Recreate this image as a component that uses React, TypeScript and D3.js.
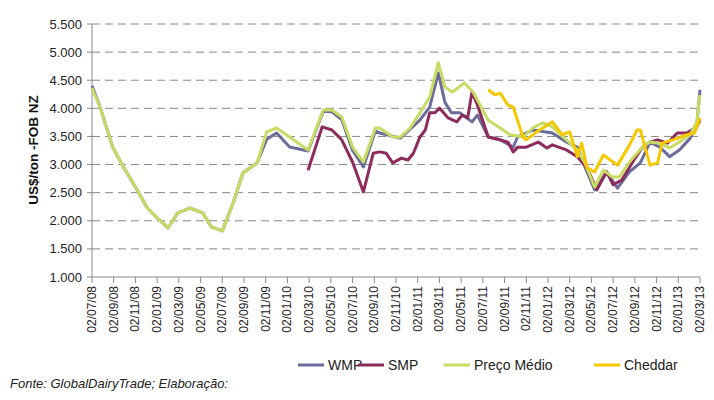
import * as React from 'react';
import * as d3 from 'd3';

// x = months since 02/07/08, y = US$/ton
const xLabels = ['02/07/08', '02/09/08', '02/11/08', '02/01/09', '02/03/09', '02/05/09', '02/07/09', '02/09/09', '02/11/09', '02/01/10', '02/03/10', '02/05/10', '02/07/10', '02/09/10', '02/11/10', '02/01/11', '02/03/11', '02/05/11', '02/07/11', '02/09/11', '02/11/11', '02/01/12', '02/03/12', '02/05/12', '02/07/12', '02/09/12', '02/11/12', '02/01/13', '02/03/13'];
const yTicks = [1000, 1500, 2000, 2500, 3000, 3500, 4000, 4500, 5000, 5500];

const wmp: [number, number][] = [
  [0, 4400], [0.74, 4024], [1.9, 3312], [2.9, 2956], [4, 2600], [5.1, 2227], [6, 2050], [7, 1872], [7.9, 2140], [9, 2227], [10.2, 2140], [11, 1890], [12, 1820], [13, 2316], [13.9, 2850], [15.2, 3028], [16.1, 3450], [17, 3560], [18.2, 3312], [19.9, 3240], [21.3, 3950], [22.1, 3940], [23, 3800], [24, 3250], [25, 2956], [26.1, 3600], [26.5, 3560], [28.4, 3470], [30.2, 3790], [31.1, 4020], [31.9, 4630], [32.5, 4110], [33.1, 3920], [33.9, 3920], [35, 3760], [35.5, 3880], [36.5, 3490], [37.6, 3440], [38.8, 3312], [39.2, 3490], [40.6, 3615], [42.4, 3560], [43.7, 3400], [44.7, 3310], [45.4, 2960], [46.3, 2550], [47.4, 2870], [48.4, 2580], [49.5, 2870], [50.5, 3030], [51.4, 3400], [52.3, 3310], [53.2, 3140], [54.1, 3260], [55.1, 3470], [55.7, 3700], [56, 4330],
];
const smp: [number, number][] = [
  [19.9, 2900], [21.2, 3670], [22.1, 3615], [23, 3440], [24, 3045], [25, 2513], [25.9, 3200], [26.5, 3225], [27.1, 3200], [27.7, 3030], [28.5, 3115], [29.1, 3080], [29.6, 3200], [30.2, 3490], [30.7, 3615], [31.1, 3920], [31.6, 3920], [32, 4005], [32.8, 3830], [33.6, 3760], [34.1, 3880], [34.6, 3830], [35, 4290], [35.5, 4060], [36.5, 3490], [37.6, 3440], [38.3, 3400], [38.8, 3225], [39.2, 3310], [40, 3310], [41.1, 3400], [41.9, 3295], [42.4, 3350], [43.7, 3260], [44.7, 3140], [45.6, 2940], [46.5, 2550], [47.4, 2870], [48, 2640], [48.8, 2725], [49.8, 3045], [50.7, 3310], [51.4, 3400], [52.1, 3440], [53, 3380], [53.9, 3560], [54.8, 3560], [55.7, 3670], [56, 3790],
];
const medio: [number, number][] = [
  [0, 4362], [0.74, 4024], [1.9, 3312], [2.9, 2956], [4, 2600], [5.1, 2227], [6, 2050], [7, 1872], [7.9, 2140], [9, 2227], [10.2, 2140], [11, 1890], [12, 1820], [13, 2316], [13.9, 2850], [15.2, 3028], [16.1, 3580], [17, 3650], [18.2, 3490], [19.9, 3260], [21.3, 3970], [22.1, 3970], [23, 3845], [24, 3312], [25, 3045], [26.1, 3650], [26.5, 3650], [27.7, 3490], [28.4, 3490], [29.3, 3650], [30.2, 3920], [31.1, 4200], [31.9, 4810], [32.5, 4380], [33.2, 4290], [34.3, 4450], [35.1, 4290], [36.5, 3790], [37.6, 3650], [38.5, 3530], [39.7, 3490], [40.6, 3650], [41.5, 3740], [42.4, 3670], [43.4, 3490], [44.7, 3260], [45.4, 3030], [46.3, 2600], [47.1, 2900], [47.9, 2780], [48.6, 2780], [49.5, 3045], [50.7, 3312], [51.4, 3400], [52.3, 3380], [53.2, 3295], [54.1, 3400], [55.1, 3530], [55.7, 3760], [56, 4240],
];
const cheddar: [number, number][] = [
  [36.5, 4330], [37.1, 4240], [37.6, 4270], [38.3, 4060], [38.8, 4020], [39.7, 3490], [40, 3440], [40.8, 3560], [42.4, 3760], [43.3, 3530], [44, 3580], [44.7, 3140], [45.1, 3380], [45.6, 2940], [46.3, 2870], [47.1, 3170], [48.4, 2990], [49.4, 3310], [50.2, 3615], [50.5, 3615], [51.4, 2990], [52.1, 3030], [52.5, 3380], [53.5, 3440], [54.8, 3530], [55.5, 3560], [56, 3830],
];

const series = [
  { name: 'WMP', data: wmp, color: '#6a6c9c' },
  { name: 'SMP', data: smp, color: '#8c2b5c' },
  { name: 'Preço Médio', data: medio, color: '#c8dc64' },
  { name: 'Cheddar', data: cheddar, color: '#f5c800' },
];
const legendX = [298, 358, 444, 594];

export default function App() {
  const width = 714;
  const height = 400;
  const x = d3.scaleLinear().domain([0, 56]).range([92, 700]);
  const y = d3.scaleLinear().domain([1000, 5500]).range([277, 24]);
  const line = d3.line<[number, number]>().x(d => x(d[0])).y(d => y(d[1]));
  const font = 'Arial, "Liberation Sans", sans-serif';

  return (
    <svg width={width} height={height} style={{ position: 'absolute', left: 0, top: 0, fontFamily: font }}>
      <rect width={width} height={height} fill="#fff" />
      {yTicks.map(t => (
        <g key={t}>
          {t > 1000 && <line x1={92} x2={700} y1={y(t)} y2={y(t)} stroke="#888" strokeDasharray="8,5" />}
          <line x1={87} x2={92} y1={y(t)} y2={y(t)} stroke="#888" />
          <text x={82} y={y(t) + 4.5} textAnchor="end" fontSize={13} fill="#222">{d3.format(',')(t).replace(',', '.')}</text>
        </g>
      ))}
      <line x1={92} x2={92} y1={24} y2={277} stroke="#888" />
      <line x1={92} x2={700} y1={277} y2={277} stroke="#888" />
      {xLabels.map((l, i) => (
        <g key={l}>
          <line x1={x(i * 2)} x2={x(i * 2)} y1={277} y2={283} stroke="#888" />
          <text transform={`translate(${x(i * 2) + 4},${286}) rotate(-90)`} textAnchor="end" fontSize={12} fill="#222">{l}</text>
        </g>
      ))}
      <text transform="translate(38,150) rotate(-90)" textAnchor="middle" fontSize={13.5} fontWeight="bold" fill="#111">US$/ton -FOB NZ</text>
      {series.map(s => (
        <path key={s.name} d={line(s.data) || ''} fill="none" stroke={s.color} strokeWidth={3} strokeLinejoin="round" />
      ))}
      {series.map((s, i) => (
        <g key={s.name}>
          <line x1={legendX[i]} x2={legendX[i] + 26} y1={365} y2={365} stroke={s.color} strokeWidth={3} />
          <text x={legendX[i] + 30} y={370} fontSize={14} fill="#222">{s.name}</text>
        </g>
      ))}
      <text x={10} y={388} fontSize={13} fontStyle="italic" fill="#222">Fonte: GlobalDairyTrade;  Elaboração:</text>
    </svg>
  );
}
